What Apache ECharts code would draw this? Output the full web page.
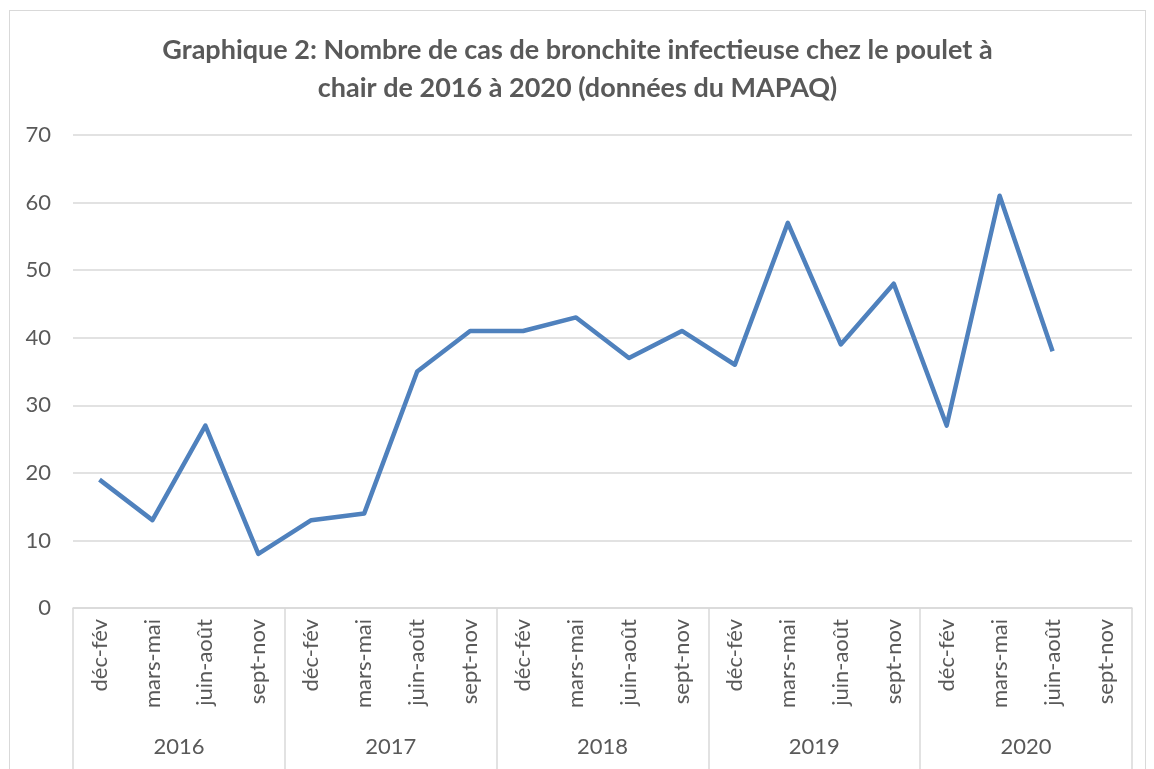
<!DOCTYPE html>
<html>
<head>
<meta charset="utf-8">
<script src="https://cdn.jsdelivr.net/npm/echarts@6/dist/echarts.min.js"></script>
<style>
  body { margin: 0; background: #fff; }
  #main { position: absolute; left: 9px; top: 10px; width: 1137px; height: 780px;
          border: 1px solid #d9d9d9; box-sizing: border-box; }
</style>
</head>
<body>
<div id="main"></div>
<script>
var seasons = ['déc-fév', 'mars-mai', 'juin-août', 'sept-nov'];
var years = ['2016', '2017', '2018', '2019', '2020'];
var cases = [19, 13, 27, 8, 13, 14, 35, 41, 41, 43, 37, 41, 36, 57, 39, 48, 27, 61, 38, null];
var yTicks = { min: 0, max: 70, interval: 10 };

var categories = [];
years.forEach(function (y) {
  seasons.forEach(function (s) { categories.push(s); });
});

var chart = echarts.init(document.getElementById('main'));
var font = 'Lato, "Open Sans", sans-serif';
option = {
  animation: false,
  title: {
    text: 'Graphique 2: Nombre de cas de bronchite infectieuse chez le poulet à\nchair de 2016 à 2020 (données du MAPAQ)',
    left: 'center',
    top: 15,
    textStyle: {
      fontFamily: font,
      fontSize: 27,
      fontWeight: 'bold',
      color: '#595959',
      lineHeight: 38
    }
  },
  grid: { left: 63, right: 13, top: 124, bottom: 181 },
  xAxis: [{
    type: 'category',
    data: categories,
    boundaryGap: true,
    axisLine: { lineStyle: { color: '#d9d9d9', width: 1.5 } },
    axisTick: { show: false },
    axisLabel: {
      interval: 0,
      rotate: 90,
      margin: 11,
      fontFamily: font,
      fontSize: 22,
      color: '#595959'
    }
  }, {
    type: 'category',
    data: years,
    position: 'bottom',
    boundaryGap: true,
    axisLine: { show: false },
    axisTick: { show: true, interval: 0, length: 165, lineStyle: { color: '#d9d9d9', width: 1.5 } },
    axisLabel: {
      interval: 0,
      margin: 128,
      fontFamily: font,
      fontSize: 22,
      color: '#595959'
    }
  }],
  yAxis: {
    type: 'value',
    min: yTicks.min,
    max: yTicks.max,
    interval: yTicks.interval,
    axisLine: { show: false },
    axisTick: { show: false },
    splitLine: { lineStyle: { color: '#d9d9d9', width: 1.5 } },
    axisLabel: {
      margin: 22,
      fontFamily: font,
      fontSize: 22,
      color: '#595959'
    }
  },
  series: [{
    type: 'line',
    data: cases,
    xAxisIndex: 0,
    symbol: 'none',
    connectNulls: false,
    lineStyle: { color: '#4f81bd', width: 4.5, join: 'round' }
  }]
};
chart.setOption(option);
</script>
</body>
</html>
